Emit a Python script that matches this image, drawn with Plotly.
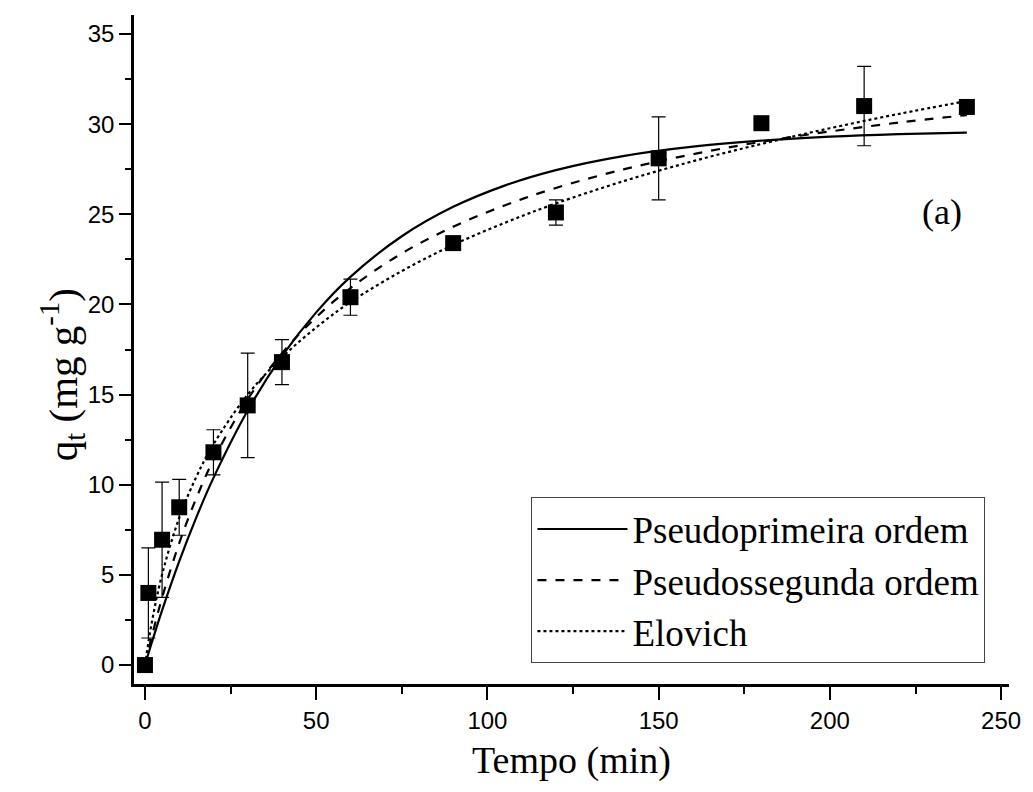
import plotly.graph_objects as go

# Experimental data
t_exp = [0, 1, 5, 10, 20, 30, 40, 60, 90, 120, 150, 180, 210, 240]
q_exp = [0.0, 4.0, 6.95, 8.75, 11.8, 14.4, 16.8, 20.4, 23.4, 25.1, 28.1, 30.05, 31.0, 30.95]
q_err = [0.0, 2.5, 3.2, 1.55, 1.25, 2.9, 1.25, 1.0, 0.0, 0.7, 2.3, 0.0, 2.2, 0.0]

# Model curves
t_fit = [0, 2, 5, 10, 15, 20, 30, 40, 50, 60, 75, 90, 105, 120, 140, 160, 180, 200, 220, 240]
q_pfo = [0.0, 1.25, 3.03, 5.75, 8.19, 10.38, 14.12, 17.13, 19.56, 21.53, 23.78, 25.41,
         26.59, 27.45, 28.24, 28.75, 29.08, 29.30, 29.44, 29.53]
q_pso = [0.0, 1.59, 3.73, 6.76, 9.26, 11.38, 14.74, 17.29, 19.29, 20.91, 22.83, 24.31,
         25.49, 26.46, 27.50, 28.33, 29.02, 29.59, 30.08, 30.50]
q_elo = [0.0, 2.37, 5.02, 8.16, 10.44, 12.24, 15.0, 17.06, 18.72, 20.13, 21.85, 23.3,
         24.52, 25.6, 26.85, 27.94, 28.9, 29.77, 30.56, 31.28]

serif = "Liberation Serif, Times New Roman, serif"
sans = "Liberation Sans, Arial, sans-serif"

fig = go.Figure()
fig.add_trace(go.Scatter(x=t_fit, y=q_pfo, mode="lines", name="Pseudoprimeira ordem",
                         line=dict(color="black", width=2.2, shape="spline")))
fig.add_trace(go.Scatter(x=t_fit, y=q_pso, mode="lines", name="Pseudossegunda ordem",
                         line=dict(color="black", width=2.2, dash="dash", shape="spline")))
fig.add_trace(go.Scatter(x=t_fit, y=q_elo, mode="lines", name="Elovich",
                         line=dict(color="black", width=2.2, dash="dot", shape="spline")))
fig.add_trace(go.Scatter(x=t_exp, y=q_exp, mode="markers", showlegend=False,
                         marker=dict(symbol="square", size=16, color="black"),
                         error_y=dict(type="data", array=q_err, visible=True,
                                      color="black", thickness=1.2, width=7)))

fig.add_annotation(x=239.3, y=25.1, text="(a)", showarrow=False, xanchor="right",
                   yanchor="middle",
                   font=dict(family=serif, size=36, color="black"))

# y-axis title as a rotated annotation (placed like the reference)
fig.add_annotation(xref="paper", yref="paper", x=-0.082, y=0.462,
                   text="q<sub>t</sub> (mg g<sup>-1</sup>)", textangle=-90,
                   showarrow=False, xanchor="center", yanchor="middle",
                   font=dict(family=serif, size=41, color="black"))

fig.update_layout(
    width=1033, height=792,
    margin=dict(l=134, r=21, t=15, b=108),
    paper_bgcolor="white", plot_bgcolor="white",
    legend=dict(x=0.454, y=0.031, xanchor="left", yanchor="bottom",
                bordercolor="#444", borderwidth=1.2, bgcolor="white",
                font=dict(family=serif, size=37, color="black"),
                itemwidth=90, tracegroupgap=0),
    xaxis=dict(range=[-3.2, 252.3], showgrid=False, zeroline=False,
               showline=True, linecolor="black", linewidth=2.5,
               ticks="outside", ticklen=13, tickwidth=2.2, tickcolor="black",
               tick0=0, dtick=50,
               minor=dict(ticks="outside", ticklen=7, tickwidth=2, tickcolor="black", dtick=25),
               tickfont=dict(family=sans, size=24, color="black"),
               title=dict(text="Tempo (min)", font=dict(family=serif, size=38, color="black"),
                          standoff=14)),
    yaxis=dict(range=[-1.05, 36.05], showgrid=False, zeroline=False,
               showline=True, linecolor="black", linewidth=2.5,
               ticks="outside", ticklen=12, tickwidth=2.2, tickcolor="black",
               tick0=0, dtick=5,
               minor=dict(ticks="outside", ticklen=6, tickwidth=2, tickcolor="black", dtick=2.5),
               tickfont=dict(family=sans, size=24, color="black")),
)

fig.write_html("out.html")
